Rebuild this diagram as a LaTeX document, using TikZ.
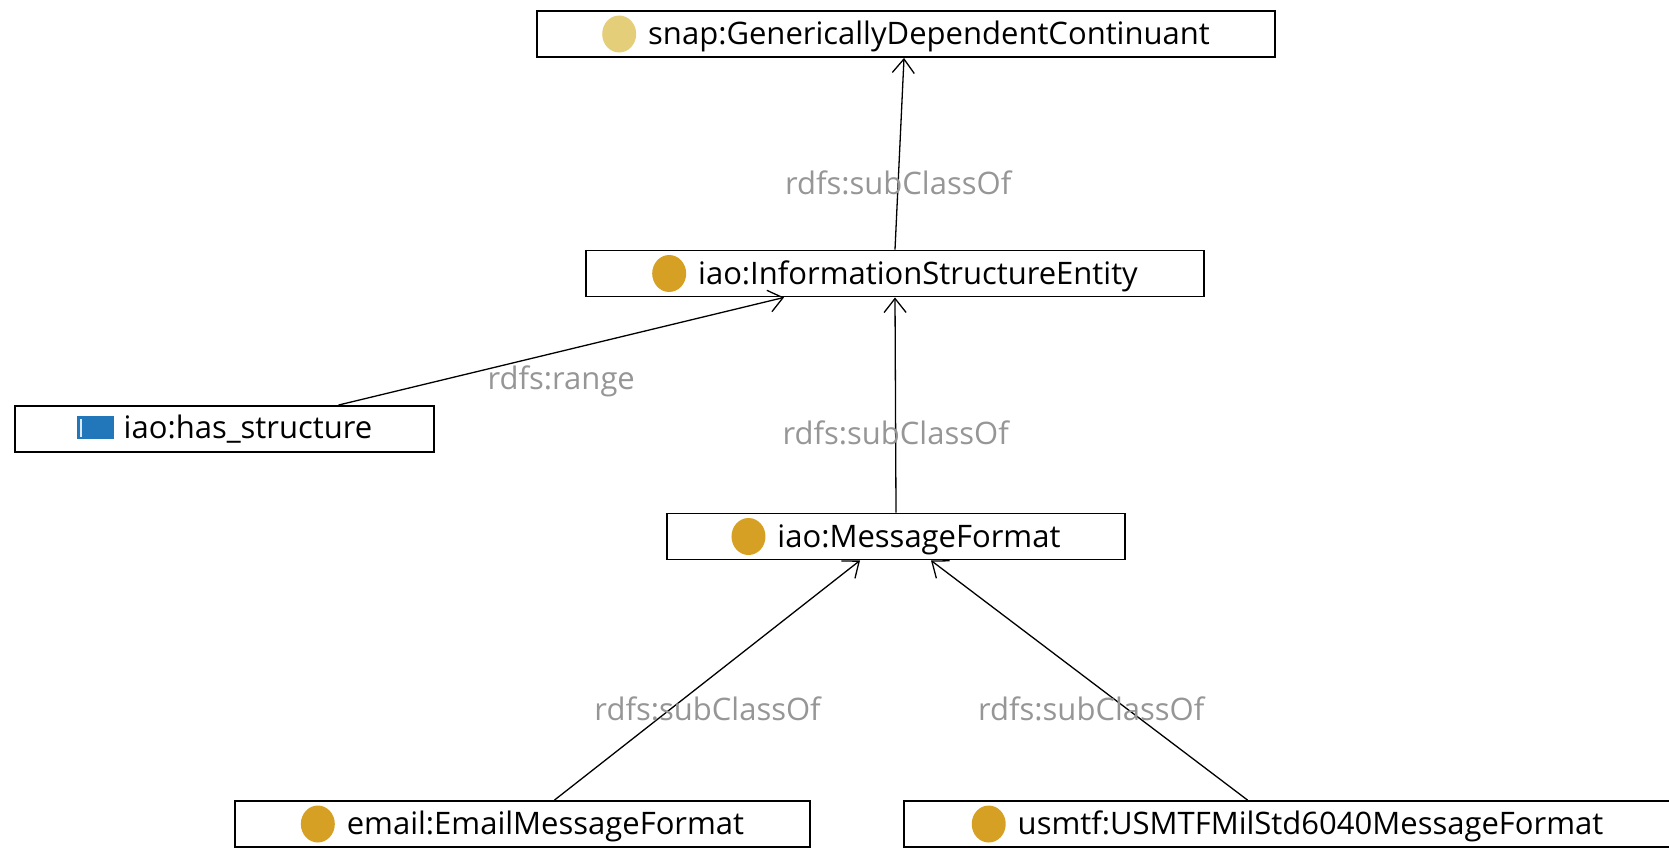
\documentclass[tikz,border=0pt]{standalone}
\usepackage{fontspec}
\setmainfont{Open Sans}
\usetikzlibrary{arrows.meta}

\definecolor{clsgold}{RGB}{214,160,36}
\definecolor{clspale}{RGB}{228,206,122}
\definecolor{propblue}{RGB}{34,118,186}
\definecolor{lblgray}{RGB}{150,150,150}

\newcommand{\clsfont}{\fontsize{31pt}{36pt}\selectfont}
\newcommand{\clsdot}[1]{\tikz[baseline=-10.5pt]\fill[#1] (0pt,0pt) ellipse (17pt and 18.5pt);\hspace{12pt}}
\newcommand{\propicon}{\tikz[baseline=-10.5pt]{\fill[propblue] (0pt,-11.5pt) rectangle (37pt,11.5pt); \fill[white!85!propblue] (3pt,-9pt) rectangle (5pt,9pt);}\hspace{10pt}}

\tikzset{
	cls/.style={draw, line width=1.9pt, minimum height=46pt, inner sep=0pt, font=\clsfont},
	lbl/.style={font=\clsfont, text=lblgray, inner sep=0pt}
}

\begin{document}
\begin{tikzpicture}[x=1pt, y=-1pt, >={Straight Barb[length=14pt,width=22pt]}, line width=1.3pt]
	\useasboundingbox (0,0) rectangle (1669,848);

	% Nodes {snap, ise, hs, mf, email, usmtf}
	\node [cls, minimum width=738pt] (snap)  at (906,34)      {\clsdot{clspale}snap:GenericallyDependentContinuant};
	\node [cls, minimum width=618pt] (ise)   at (895,273.5)   {\clsdot{clsgold}iao:InformationStructureEntity};
	\node [cls, minimum width=419pt] (hs)    at (224.5,429)   {\propicon iao:has\_structure};
	\node [cls, minimum width=458pt] (mf)    at (896,536.5)   {\clsdot{clsgold}iao:MessageFormat};
	\node [cls, minimum width=575pt] (email) at (522.5,824)   {\clsdot{clsgold}email:EmailMessageFormat};
	\node [cls, minimum width=767pt] (usmtf) at (1287.5,824)  {\clsdot{clsgold}usmtf:USMTFMilStd6040MessageFormat};

	% Paths
	\path [->] (ise.north) edge node [lbl, pos=0.35] {rdfs:subClassOf} ([xshift=-2pt]snap.south);
	\path [->] ([xshift=114pt]hs.north) edge node [lbl, pos=0.5, yshift=-30pt] {rdfs:range} ([xshift=-111pt]ise.south);
	\path [->] (mf.north) edge node [lbl, pos=0.37] {rdfs:subClassOf} (ise.south);
	\path [->] ([xshift=32pt]email.north) edge node [lbl, pos=0.38, xshift=37pt] {rdfs:subClassOf} ([xshift=-36pt]mf.south);
	\path [->] ([xshift=-40pt]usmtf.north) edge node [lbl, pos=0.38, xshift=-36pt] {rdfs:subClassOf} ([xshift=35pt]mf.south);

\end{tikzpicture}
\end{document}
